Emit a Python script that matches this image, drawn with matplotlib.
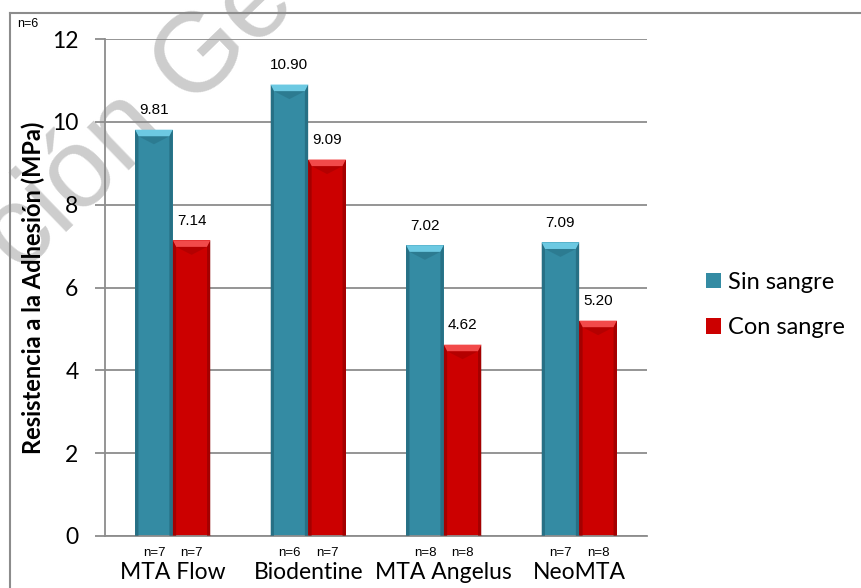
import matplotlib.pyplot as plt
import numpy as np
from matplotlib.patches import Polygon
from matplotlib.lines import Line2D

# data
categories = ["MTA Flow", "Biodentine", "MTA Angelus", "NeoMTA"]
sin_sangre = [9.81, 10.90, 7.02, 7.09]
con_sangre = [7.14, 9.09, 4.62, 5.20]
n_sin = [7, 6, 8, 7]
n_con = [7, 7, 8, 8]
series_names = ["Sin sangre", "Con sangre"]

blue = "#348ba3"
blue_light = "#6cc9e2"
blue_dark = "#1f5f72"
red = "#cc0000"
red_light = "#f24a4a"
red_dark = "#8a0000"
grid_col = "#8c8c8c"

fig = plt.figure(figsize=(8.61, 5.88), dpi=100)
ax = fig.add_axes([105 / 861, 1 - 536 / 588, 542 / 861, 497 / 588])
ax.set_facecolor("none")

# outer frame of the chart area
fig.add_artist(Line2D([10 / 861, 10 / 861], [1 - 13 / 588, 0], color=grid_col, lw=1.5))
fig.add_artist(Line2D([10 / 861, 1], [1 - 13 / 588, 1 - 13 / 588], color=grid_col, lw=1.5))

# watermark
fig.text(140 / 861, 1 - 120 / 588, "ción Ge", fontsize=81, family="Liberation Sans",
         color="#cdcdcd", rotation=44, rotation_mode="anchor", ha="center", va="center",
         zorder=-5)

x = np.arange(len(categories))
w = 0.278


def bevel(bars, light, dark):
    for b in bars:
        x0, h, bw = b.get_x(), b.get_height(), b.get_width()
        x1 = x0 + bw
        d = 0.16
        s = 0.025
        ax.add_patch(Polygon([(x0, h), (x1, h), (x1 - s, h - d), (x0 + s, h - d)],
                             closed=True, facecolor=light, edgecolor="none", zorder=3))
        ax.add_patch(Polygon([(x0 + s, h - d), (x1 - s, h - d), ((x0 + x1) / 2, h - 2.2 * d)],
                             closed=True, facecolor=dark, edgecolor="none", alpha=0.35, zorder=3))
        ax.add_patch(Polygon([(x0, 0), (x0, h), (x0 + s, h - d), (x0 + s, 0)],
                             closed=True, facecolor=dark, edgecolor="none", alpha=0.6, zorder=3))
        ax.add_patch(Polygon([(x1, 0), (x1, h), (x1 - s, h - d), (x1 - s, 0)],
                             closed=True, facecolor=dark, edgecolor="none", alpha=0.6, zorder=3))


b1 = ax.bar(x - w / 2, sin_sangre, w, color=blue, zorder=2, label=series_names[0])
b2 = ax.bar(x + w / 2, con_sangre, w, color=red, zorder=2, label=series_names[1])
bevel(b1, blue_light, blue_dark)
bevel(b2, red_light, red_dark)

for bars, vals in [(b1, sin_sangre), (b2, con_sangre)]:
    for b, v in zip(bars, vals):
        ax.annotate(f"{v:.2f}", (b.get_x() + b.get_width() / 2, v), xytext=(0, 9),
                    textcoords="offset points", ha="center", va="bottom",
                    fontsize=11, family="Liberation Sans")

# sample sizes under the bars
for bars, ns in [(b1, n_sin), (b2, n_con)]:
    for b, n in zip(bars, ns):
        ax.annotate(f"n={n}", (b.get_x() + b.get_width() / 2, 0), xytext=(0, -12),
                    textcoords="offset points", ha="center", va="center",
                    fontsize=9.5, family="Liberation Sans", annotation_clip=False)
fig.text(17 / 861, 1 - 24 / 588, "n=6", fontsize=9, family="Liberation Sans", va="center")

ax.set_ylim(0, 12)
ax.set_xlim(-0.5, 3.5)
ax.set_yticks(range(0, 13, 2))
ax.set_xticks(x)
ax.set_xticklabels(categories, fontsize=16.5, family="Lato")
ax.tick_params(axis="x", length=0, pad=19)
ax.tick_params(axis="y", length=7, color=grid_col, width=1.3, labelsize=16.5, pad=12)
for lab in ax.get_yticklabels():
    lab.set_family("Lato")
ax.yaxis.grid(True, color=grid_col, lw=1.3, zorder=0)
ax.set_axisbelow(True)
for s in ["top", "right"]:
    ax.spines[s].set_visible(False)
ax.spines["left"].set_color(grid_col)
ax.spines["bottom"].set_color(grid_col)
ax.spines["left"].set_linewidth(1.3)
ax.spines["bottom"].set_linewidth(1.3)

ax.set_ylabel("Resistencia a la Adhesión (MPa)", fontsize=17, fontweight="bold",
              family="Lato", labelpad=5)

leg = ax.legend(loc="center left", bbox_to_anchor=(706 / 861, 1 - 305 / 588),
                bbox_transform=fig.transFigure, frameon=False, borderpad=0, borderaxespad=0,
                prop={"family": "Lato", "size": 17}, handlelength=0.64, handleheight=0.64,
                handletextpad=0.3, labelspacing=1.05)

fig.savefig("out.png", dpi=100)
